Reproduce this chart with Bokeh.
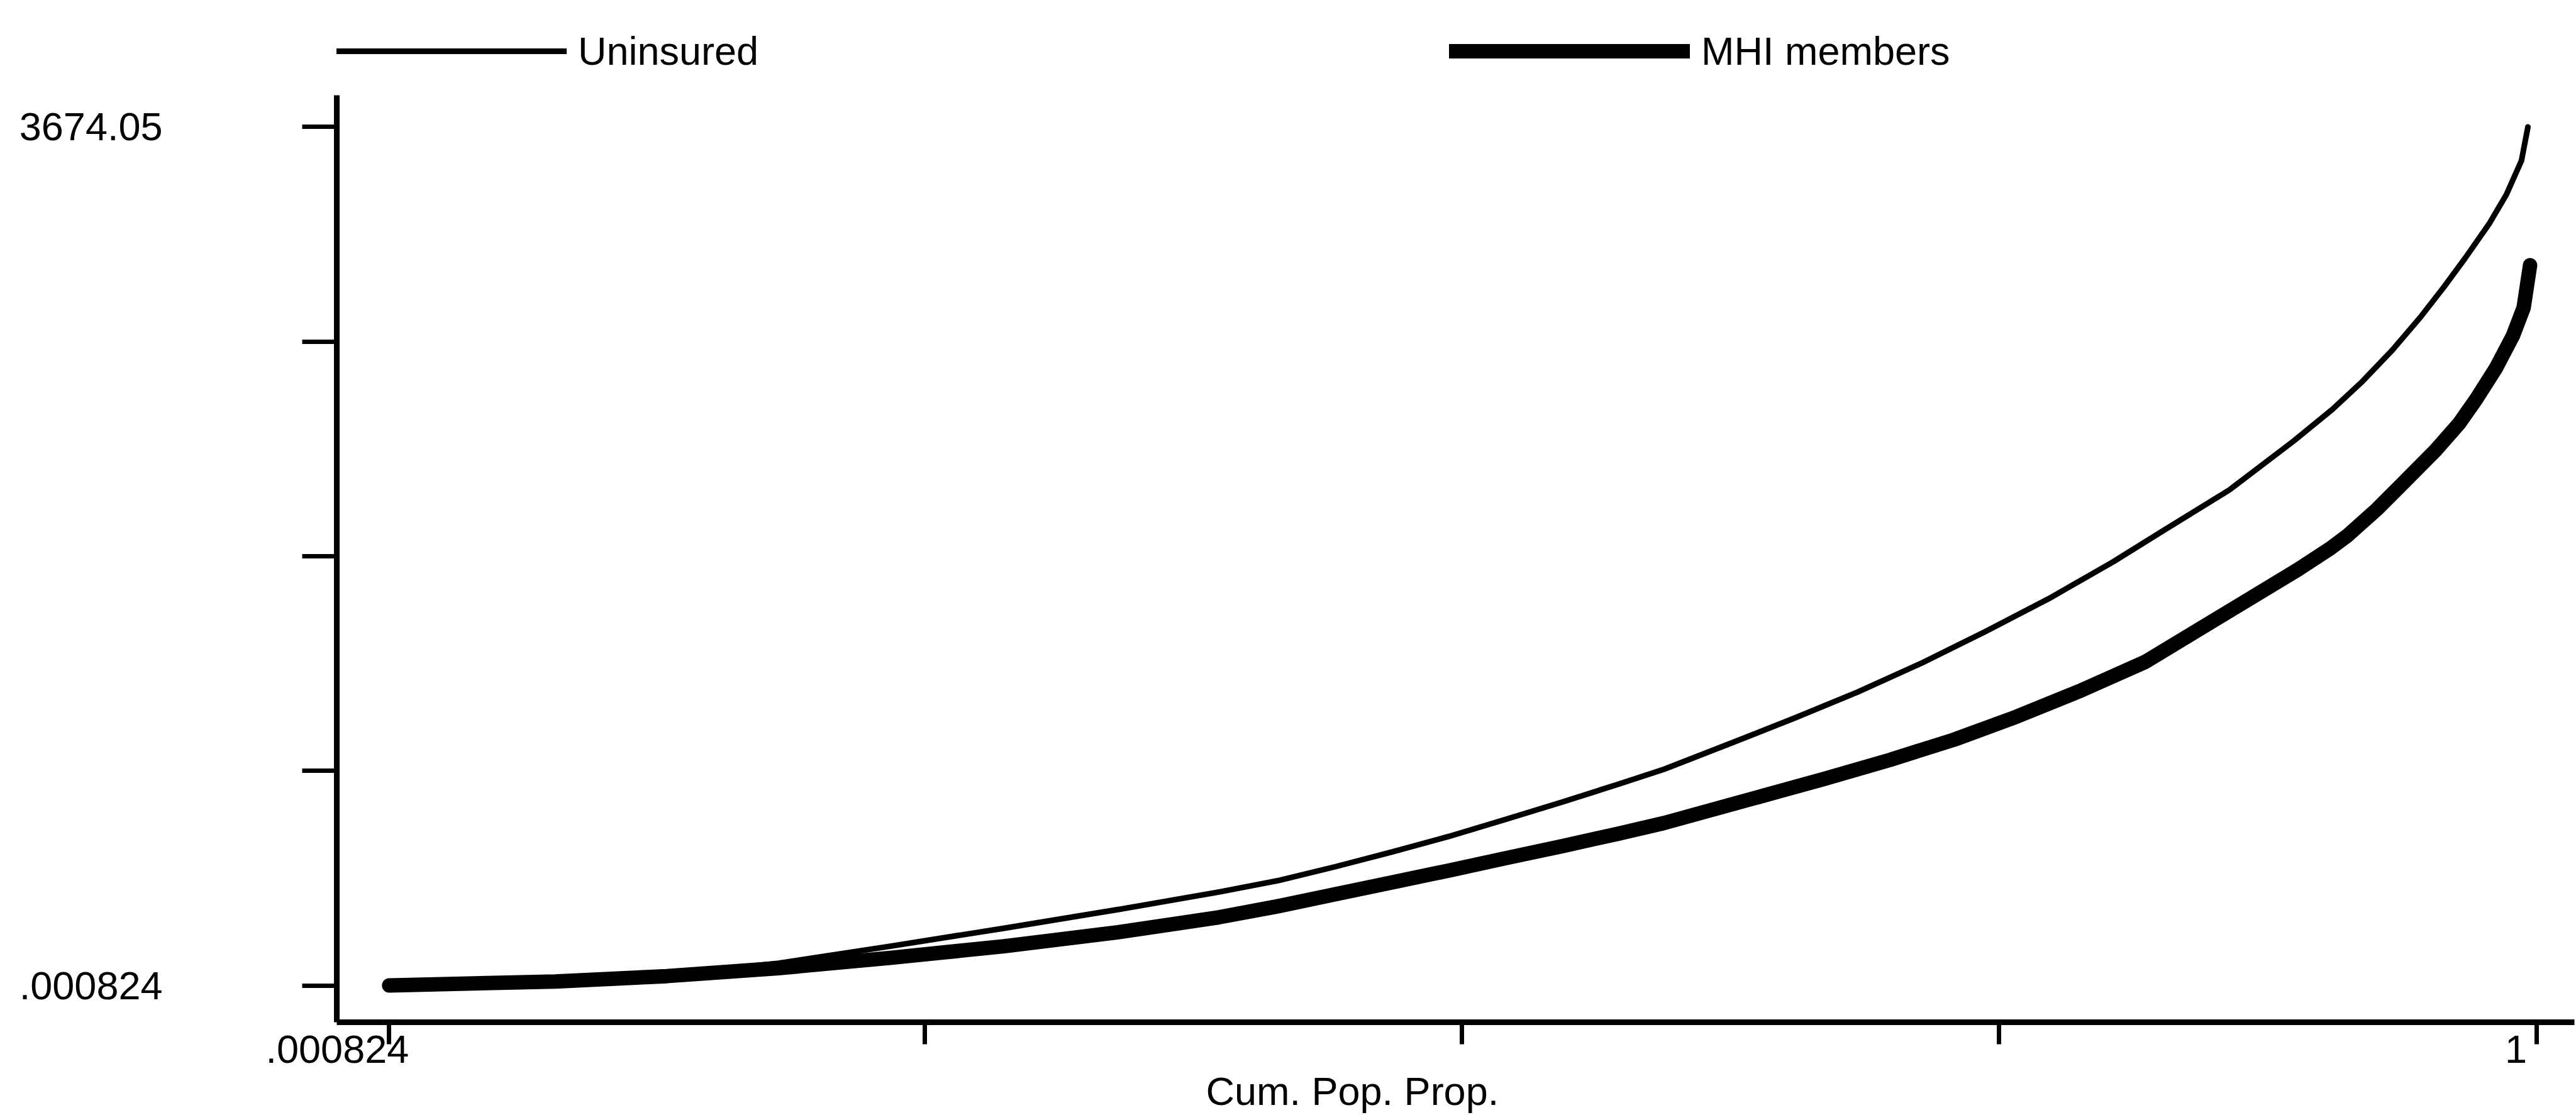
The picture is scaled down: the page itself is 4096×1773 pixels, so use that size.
from bokeh.plotting import figure
from bokeh.models import Range1d, FixedTicker, Legend, LegendItem, Title
from bokeh.embed import file_html
from bokeh.resources import INLINE

# ---- data (cumulative population proportion vs. value) ----
uninsured_p = [0.000824, 0.078, 0.130, 0.182, 0.234, 0.287, 0.340, 0.387, 0.415, 0.441,
               0.467, 0.494, 0.520, 0.547, 0.573, 0.594, 0.625, 0.655, 0.684, 0.714,
               0.743, 0.773, 0.803, 0.827, 0.857, 0.887, 0.905, 0.919,
               0.933, 0.946, 0.957, 0.967, 0.978, 0.986, 0.993, 0.996]
uninsured_v = [0, 19, 45, 95, 168, 245, 325, 400, 450, 508,
               570, 638, 710, 786, 862, 925, 1036, 1145, 1255, 1380,
               1512, 1655, 1813, 1950, 2120, 2330, 2465, 2585,
               2720, 2860, 2990, 3115, 3260, 3385, 3530, 3674.05]

mhi_p = [0.000824, 0.078, 0.130, 0.182, 0.234, 0.287, 0.340, 0.387, 0.415, 0.441,
         0.467, 0.494, 0.520, 0.547, 0.573, 0.594, 0.669, 0.699, 0.729, 0.758,
         0.788, 0.818, 0.889, 0.904, 0.912, 0.926, 0.939, 0.953, 0.964, 0.972,
         0.981, 0.989, 0.994, 0.997]
mhi_v = [0, 17, 40, 74, 118, 168, 228, 292, 340, 390,
         440, 492, 544, 597, 650, 695, 885, 965, 1052, 1150,
         1262, 1385, 1780, 1870, 1925, 2040, 2160, 2290, 2405, 2510,
         2640, 2780, 2900, 3082]

series_names = ["Uninsured", "MHI members"]

x_ticks = [0.000824, 0.25, 0.5, 0.75, 1.0]
x_tick_labels = [".000824", "1"]
x_label_anchor = [-0.0233, 0.9904]   # where the two x labels sit (left of their ticks, as printed)
y_ticks = [0.000824, 918.513, 1837.025, 2755.538, 3674.05]
y_tick_labels = [".000824", "", "", "", "3674.05"]
x_title = "Cum. Pop. Prop."

FONT = "Liberation Sans"
FS = "63px"

Y_LO, Y_AXIS_TOP, Y_HI = -157.4, 3809.4, 4215.8

p = figure(frame_width=3558, frame_height=1625, output_backend="svg", toolbar_location=None,
           x_range=Range1d(-0.02356, 1.01764), y_range=Range1d(Y_LO, Y_HI),
           min_border_left=535, min_border_right=3, min_border_top=0, min_border_bottom=148)
p.outline_line_color = None
p.xgrid.visible = False
p.ygrid.visible = False
p.background_fill_color = "white"
p.border_fill_color = "white"

r1 = p.line(uninsured_p, uninsured_v, line_color="black", line_width=9, line_join="round", line_cap="round")
r2 = p.line(mhi_p, mhi_v, line_color="black", line_width=23, line_join="round", line_cap="round")

# x axis: unlabeled tick marks drawn as (minor) ticks, the two labels set just left of them
xa = p.xaxis[0]
xa.ticker = FixedTicker(ticks=x_label_anchor, minor_ticks=x_ticks)
xa.major_label_overrides = {t: l for t, l in zip(x_label_anchor, x_tick_labels)}
xa.major_tick_line_color = None
xa.minor_tick_out = 35
xa.minor_tick_in = 0
xa.minor_tick_line_width = 7
xa.minor_tick_line_color = "black"
xa.major_tick_out = 35
xa.major_tick_in = 0
xa.axis_line_width = 9
xa.major_label_standoff = -14
xa.major_label_text_font = FONT
xa.major_label_text_font_size = FS
xa.major_label_text_color = "black"

ya = p.yaxis[0]
ya.bounds = (Y_LO, Y_AXIS_TOP)
ya.ticker = FixedTicker(ticks=y_ticks)
ya.major_label_overrides = {t: l for t, l in zip(y_ticks, y_tick_labels)}
ya.minor_tick_line_color = None
ya.major_tick_out = 55
ya.major_tick_in = 0
ya.major_tick_line_width = 7
ya.axis_line_width = 9
ya.major_label_standoff = 222
ya.major_label_text_font = FONT
ya.major_label_text_font_size = FS
ya.major_label_text_color = "black"
ya.major_label_orientation = "horizontal"

# x-axis title, a little left of the frame centre as in the reference
p.add_layout(Title(text=x_title, align="left", offset=1382, standoff=10,
                   text_font=FONT, text_font_size=FS, text_font_style="normal",
                   text_color="black"), "below")

# legend keys, placed in the top band of the plot area
def make_legend(name, rend, loc, gw):
    return Legend(items=[LegendItem(label=name, renderers=[rend])], location=loc,
                  orientation="horizontal", padding=0, margin=0, spacing=0,
                  glyph_width=gw, glyph_height=70, label_height=70, label_standoff=18,
                  label_text_font=FONT, label_text_font_size=FS, label_text_color="black",
                  label_text_baseline="middle",
                  border_line_alpha=0, background_fill_alpha=0)

p.add_layout(make_legend(series_names[0], r1, (0, 1508), 366))
p.add_layout(make_legend(series_names[1], r2, (1769, 1508), 383))

open("out.html", "w").write(file_html(p, INLINE))
